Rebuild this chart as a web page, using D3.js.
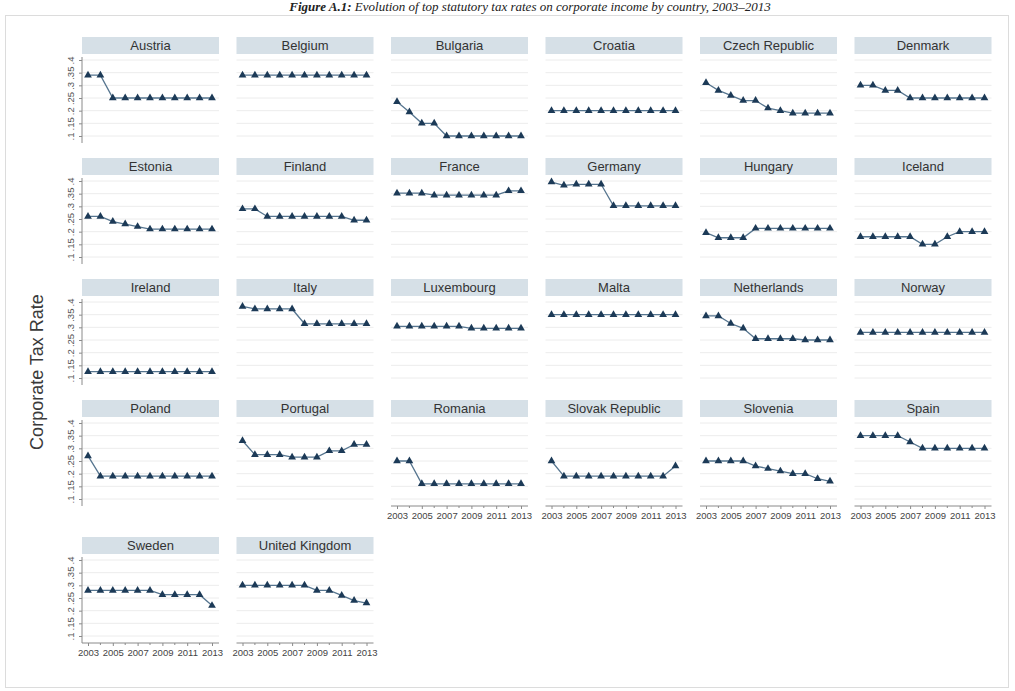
<!DOCTYPE html>
<html>
<head>
<meta charset="utf-8">
<script src="https://cdn.jsdelivr.net/npm/d3@7"></script>
<style>
  html, body { margin: 0; padding: 0; background: #ffffff; }
  svg { display: block; }
</style>
</head>
<body>
<svg id="chart" width="1015" height="691"></svg>
<script>
// Top statutory corporate tax rates, 2003–2013
const years = [2003, 2004, 2005, 2006, 2007, 2008, 2009, 2010, 2011, 2012, 2013];
const xTickYears = [2003, 2005, 2007, 2009, 2011, 2013];
const yTicks = [0.1, 0.15, 0.2, 0.25, 0.3, 0.35, 0.4];
const yTickLabels = [".1", ".15", ".2", ".25", ".3", ".35", ".4"];

const countries = [
  "Austria", "Belgium", "Bulgaria", "Croatia", "Czech Republic", "Denmark",
  "Estonia", "Finland", "France", "Germany", "Hungary", "Iceland",
  "Ireland", "Italy", "Luxembourg", "Malta", "Netherlands", "Norway",
  "Poland", "Portugal", "Romania", "Slovak Republic", "Slovenia", "Spain",
  "Sweden", "United Kingdom"
];

const rates = [
  [0.34, 0.34, 0.25, 0.25, 0.25, 0.25, 0.25, 0.25, 0.25, 0.25, 0.25],
  [0.34, 0.34, 0.34, 0.34, 0.34, 0.34, 0.34, 0.34, 0.34, 0.34, 0.34],
  [0.235, 0.195, 0.15, 0.15, 0.10, 0.10, 0.10, 0.10, 0.10, 0.10, 0.10],
  [0.20, 0.20, 0.20, 0.20, 0.20, 0.20, 0.20, 0.20, 0.20, 0.20, 0.20],
  [0.31, 0.28, 0.26, 0.24, 0.24, 0.21, 0.20, 0.19, 0.19, 0.19, 0.19],
  [0.30, 0.30, 0.28, 0.28, 0.25, 0.25, 0.25, 0.25, 0.25, 0.25, 0.25],
  [0.26, 0.26, 0.24, 0.23, 0.22, 0.21, 0.21, 0.21, 0.21, 0.21, 0.21],
  [0.29, 0.29, 0.26, 0.26, 0.26, 0.26, 0.26, 0.26, 0.26, 0.245, 0.245],
  [0.352, 0.352, 0.352, 0.344, 0.344, 0.344, 0.344, 0.344, 0.344, 0.361, 0.361],
  [0.396, 0.383, 0.387, 0.387, 0.387, 0.302, 0.302, 0.302, 0.302, 0.302, 0.302],
  [0.196, 0.176, 0.176, 0.176, 0.213, 0.213, 0.213, 0.213, 0.213, 0.213, 0.213],
  [0.18, 0.18, 0.18, 0.18, 0.18, 0.15, 0.15, 0.18, 0.20, 0.20, 0.20],
  [0.125, 0.125, 0.125, 0.125, 0.125, 0.125, 0.125, 0.125, 0.125, 0.125, 0.125],
  [0.3825, 0.3725, 0.3725, 0.3725, 0.3725, 0.314, 0.314, 0.314, 0.314, 0.314, 0.314],
  [0.304, 0.304, 0.304, 0.304, 0.304, 0.304, 0.296, 0.296, 0.296, 0.296, 0.296],
  [0.35, 0.35, 0.35, 0.35, 0.35, 0.35, 0.35, 0.35, 0.35, 0.35, 0.35],
  [0.345, 0.345, 0.315, 0.296, 0.255, 0.255, 0.255, 0.255, 0.25, 0.25, 0.25],
  [0.28, 0.28, 0.28, 0.28, 0.28, 0.28, 0.28, 0.28, 0.28, 0.28, 0.28],
  [0.27, 0.19, 0.19, 0.19, 0.19, 0.19, 0.19, 0.19, 0.19, 0.19, 0.19],
  [0.33, 0.275, 0.275, 0.275, 0.265, 0.265, 0.265, 0.29, 0.29, 0.315, 0.315],
  [0.25, 0.25, 0.16, 0.16, 0.16, 0.16, 0.16, 0.16, 0.16, 0.16, 0.16],
  [0.25, 0.19, 0.19, 0.19, 0.19, 0.19, 0.19, 0.19, 0.19, 0.19, 0.23],
  [0.25, 0.25, 0.25, 0.25, 0.23, 0.22, 0.21, 0.20, 0.20, 0.18, 0.17],
  [0.35, 0.35, 0.35, 0.35, 0.325, 0.30, 0.30, 0.30, 0.30, 0.30, 0.30],
  [0.28, 0.28, 0.28, 0.28, 0.28, 0.28, 0.263, 0.263, 0.263, 0.263, 0.22],
  [0.30, 0.30, 0.30, 0.30, 0.30, 0.30, 0.28, 0.28, 0.26, 0.24, 0.23]
];

const svg = d3.select("#chart");
const nCols = 6;

// Layout of the facet grid
const colLeft0 = 82, colPitch = 154.5, panelW = 137;
const stripH = 17;
const stripGap = 6;          // strip bottom to the .4 gridline
const plotSpan = 76;         // pixel distance from .4 to .1
const basePad = 7;           // below .1 down to the panel floor
const rowPitch = 121;
const axisExtra = 16;        // extra room used by a row that carries year labels

const lineColor = "#56758f";
const markColor = "#1c3a57";
const gridColor = "#ececec";
const stripFill = "#d6e0e7";
const axisColor = "#8a8a8a";
const textColor = "#333333";

// Outer frame
svg.append("rect")
  .attr("x", 5.5).attr("y", 15.5)
  .attr("width", 1003).attr("height", 672)
  .attr("fill", "#ffffff")
  .attr("stroke", "#dcdcdc").attr("stroke-width", 1);

// Title
const title = svg.append("text")
  .attr("x", 530).attr("y", 11)
  .attr("text-anchor", "middle")
  .attr("font-family", "'Liberation Serif', 'DejaVu Serif', serif")
  .attr("font-size", 13)
  .attr("font-style", "italic")
  .attr("fill", "#222");
title.append("tspan").attr("font-weight", "bold").text("Figure A.1: ");
title.append("tspan").text("Evolution of top statutory tax rates on corporate income by country, 2003–2013");

// Y axis title
svg.append("text")
  .attr("transform", "translate(43,372) rotate(-90)")
  .attr("text-anchor", "middle")
  .attr("font-family", "Arial, 'Liberation Sans', sans-serif")
  .attr("font-size", 18)
  .attr("fill", "#3a3a3a")
  .text("Corporate Tax Rate");

const nRows = Math.ceil(countries.length / nCols);
const hasXAxis = countries.map((c, i) => i + nCols >= countries.length);

// Row tops: a row gets extra room below it when any of its panels shows year labels
const rowTop = [];
let yCursor = 37;
for (let r = 0; r < nRows; r++) {
  rowTop.push(yCursor);
  const rowHasAxis = d3.range(r * nCols, Math.min((r + 1) * nCols, countries.length)).some(i => hasXAxis[i]);
  yCursor += rowPitch + (rowHasAxis && r < nRows - 1 ? axisExtra : 0);
}

const tri = d3.symbol().type(d3.symbolTriangle).size(26);

countries.forEach((name, i) => {
  const r = Math.floor(i / nCols), c = i % nCols;
  const left = colLeft0 + c * colPitch;
  const top = rowTop[r];
  const y0 = top + stripH + stripGap;   // pixel of .4
  const y1 = y0 + plotSpan;             // pixel of .1

  const x = d3.scaleLinear().domain([2003, 2013]).range([left + 6, left + panelW - 7]);
  const y = d3.scaleLinear().domain([0.1, 0.4]).range([y1, y0]);

  const g = svg.append("g").attr("class", "panel");

  // strip
  g.append("rect")
    .attr("x", left).attr("y", top)
    .attr("width", panelW).attr("height", stripH)
    .attr("fill", stripFill);
  g.append("text")
    .attr("x", left + panelW / 2).attr("y", top + stripH / 2 + 4.5)
    .attr("text-anchor", "middle")
    .attr("font-family", "Arial, 'Liberation Sans', sans-serif")
    .attr("font-size", 13)
    .attr("fill", textColor)
    .text(name);

  // gridlines
  g.selectAll("line.grid").data(yTicks).join("line")
    .attr("class", "grid")
    .attr("x1", left).attr("x2", left + panelW)
    .attr("y1", d => y(d)).attr("y2", d => y(d))
    .attr("stroke", gridColor).attr("stroke-width", 1);

  // y axis on the first column
  if (c === 0) {
    const ay = g.append("g").attr("transform", `translate(${left},0)`)
      .call(d3.axisLeft(y).tickValues(yTicks).tickFormat((d, k) => yTickLabels[k]).tickSize(3).tickPadding(3));
    ay.select(".domain").attr("stroke", axisColor).attr("d", `M0,${y0 - 3}V${y1 + basePad}`);
    ay.selectAll(".tick line").attr("stroke", axisColor);
    ay.selectAll(".tick text")
      .attr("font-family", "Arial, 'Liberation Sans', sans-serif")
      .attr("font-size", 9.5)
      .attr("fill", "#555")
      .attr("transform", "rotate(-90)")
      .attr("x", 0)
      .attr("y", -8)
      .attr("dy", "0")
      .attr("text-anchor", "middle");
  }

  // x axis on the lowest panel of each column
  if (hasXAxis[i]) {
    const ax = g.append("g").attr("transform", `translate(0,${y1 + basePad})`)
      .call(d3.axisBottom(x).tickValues(xTickYears).tickFormat(d3.format("d")).tickSize(3).tickPadding(3));
    ax.select(".domain").attr("stroke", axisColor).attr("d", `M${left},0H${left + panelW}`);
    ax.selectAll(".tick line").attr("stroke", axisColor);
    ax.selectAll(".tick text")
      .attr("font-family", "Arial, 'Liberation Sans', sans-serif")
      .attr("font-size", 9.5)
      .attr("fill", "#444");
    // minor year ticks
    ax.selectAll("line.minor").data(years.filter(yr => !xTickYears.includes(yr))).join("line")
      .attr("class", "minor")
      .attr("x1", d => x(d)).attr("x2", d => x(d))
      .attr("y1", 0).attr("y2", 2)
      .attr("stroke", axisColor);
  }

  // series
  const pts = years.map((yr, k) => [yr, rates[i][k]]);
  g.append("path")
    .datum(pts)
    .attr("fill", "none")
    .attr("stroke", lineColor)
    .attr("stroke-width", 1.3)
    .attr("d", d3.line().x(d => x(d[0])).y(d => y(d[1])));
  g.selectAll("path.mark").data(pts).join("path")
    .attr("class", "mark")
    .attr("transform", d => `translate(${x(d[0])},${y(d[1])})`)
    .attr("d", tri)
    .attr("fill", markColor);
});
</script>
</body>
</html>
